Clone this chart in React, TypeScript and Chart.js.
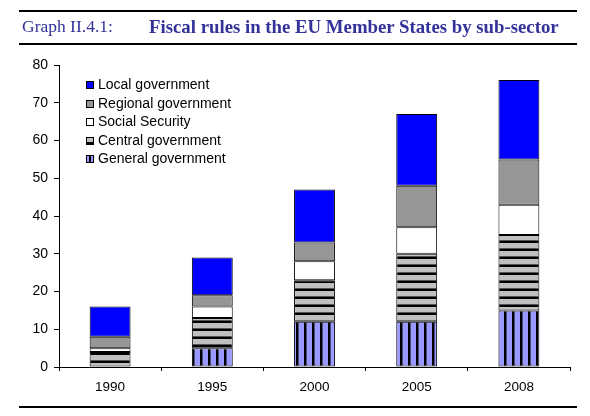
import React, { useEffect, useRef } from "react";
import { Chart, registerables } from "chart.js";

Chart.register(...registerables);

const categories = ["1990", "1995", "2000", "2005", "2008"];
const generalGov = [0, 5, 12, 12, 15];
const centralGov = [4, 8, 11, 18, 20];
const socialSec = [1, 3, 5, 7, 8];
const regionalGov = [3, 3, 5, 11, 12];
const localGov = [8, 10, 14, 19, 21];
const seriesNames = [
  "General government",
  "Central government",
  "Social Security",
  "Regional government",
  "Local government",
];
const yMax = 80;
const yStep = 10;

function makePattern(kind: "v" | "h"): CanvasPattern | string {
  const c = document.createElement("canvas");
  c.width = 8;
  c.height = 8;
  const ctx = c.getContext("2d");
  if (!ctx) return kind === "v" ? "#9999FF" : "#C0C0C0";
  if (kind === "v") {
    ctx.fillStyle = "#9999FF";
    ctx.fillRect(0, 0, 8, 8);
    ctx.fillStyle = "#000000";
    ctx.fillRect(0, 0, 2, 8);
    ctx.fillStyle = "#4d4d80";
    ctx.fillRect(2, 0, 1, 8);
  } else {
    ctx.fillStyle = "#C0C0C0";
    ctx.fillRect(0, 0, 8, 8);
    ctx.fillStyle = "#555555";
    ctx.fillRect(0, 0, 8, 1);
    ctx.fillStyle = "#000000";
    ctx.fillRect(0, 1, 8, 2);
  }
  return ctx.createPattern(c, "repeat") || "#C0C0C0";
}

const legendPlugin = {
  id: "insideLegend",
  afterDraw(chart: any) {
    const ctx = chart.ctx;
    const ds = chart.data.datasets;
    const order = [4, 3, 2, 1, 0];
    const x0 = 86;
    const y0 = 85;
    const gap = 18.5;
    ctx.save();
    ctx.font = "14px 'Liberation Sans', Arial, sans-serif";
    ctx.textBaseline = "middle";
    ctx.textAlign = "left";
    order.forEach((idx, i) => {
      const d = ds[idx];
      const cy = y0 + i * gap;
      const bx = x0;
      const by = Math.round(cy - 4);
      if (idx === 1) {
        ctx.fillStyle = "#C0C0C0";
        ctx.fillRect(bx, by, 8, 8);
        ctx.fillStyle = "#000";
        ctx.fillRect(bx, by + 5, 8, 3);
      } else if (idx === 0) {
        ctx.fillStyle = "#9999FF";
        ctx.fillRect(bx, by, 8, 8);
        ctx.fillStyle = "#000";
        ctx.fillRect(bx + 3, by, 2, 8);
      } else {
        ctx.fillStyle = d.backgroundColor;
        ctx.fillRect(bx, by, 8, 8);
      }
      ctx.strokeStyle = "#000";
      ctx.lineWidth = 1;
      ctx.strokeRect(bx + 0.5, by + 0.5, 7, 7);
      ctx.fillStyle = "#000";
      ctx.fillText(d.label, 98, cy + 0.5);
    });
    ctx.restore();
  },
};

export default function App() {
  const ref = useRef<HTMLCanvasElement | null>(null);

  useEffect(() => {
    if (!ref.current) return;
    const vPat = makePattern("v");
    const hPat = makePattern("h");
    const fills = [vPat, hPat, "#FFFFFF", "#969696", "#0000FF"];
    const values = [generalGov, centralGov, socialSec, regionalGov, localGov];
    const chart = new Chart(ref.current, {
      type: "bar",
      data: {
        labels: categories,
        datasets: values.map((v, i) => ({
          label: seriesNames[i],
          data: v,
          backgroundColor: fills[i] as any,
          borderColor: "#000000",
          borderWidth: 1,
          borderSkipped: false,
          categoryPercentage: 0.8,
          barPercentage: 0.5,
        })),
      },
      options: {
        responsive: false,
        animation: false,
        events: [],
        layout: { padding: { left: 0, top: 65, right: 20, bottom: 19 } },
        plugins: {
          legend: { display: false },
          tooltip: { enabled: false },
          title: { display: false },
        },
        scales: {
          x: {
            stacked: true,
            offset: true,
            grid: {
              offset: true,
              drawOnChartArea: false,
              tickLength: 4,
              color: "#000000",
            },
            border: { color: "#000000", width: 1 },
            ticks: {
              color: "#000000",
              padding: 8,
              font: { size: 13.5, family: "'Liberation Sans', Arial, sans-serif" },
            },
            afterFit: (s: any) => {
              s.height = 30;
            },
          },
          y: {
            stacked: true,
            min: 0,
            max: yMax,
            grid: {
              drawOnChartArea: false,
              tickLength: 5,
              color: "#000000",
            },
            border: { color: "#000000", width: 1 },
            ticks: {
              stepSize: yStep,
              color: "#000000",
              padding: 6,
              font: { size: 14, family: "'Liberation Sans', Arial, sans-serif" },
            },
            afterFit: (s: any) => {
              s.width = 59;
            },
          },
        },
      },
      plugins: [legendPlugin],
    });
    return () => chart.destroy();
  }, []);

  const titleColor = "#333399";
  return (
    <div style={{ position: "absolute", left: 0, top: 0, width: 590, height: 416, background: "#fff" }}>
      <canvas
        ref={ref}
        width={590}
        height={416}
        style={{ position: "absolute", left: 0, top: 0, width: 590, height: 416, display: "block" }}
      />
      <div style={{ position: "absolute", left: 19, top: 10, width: 558, height: 2, background: "#000" }} />
      <div
        style={{
          position: "absolute",
          left: 22,
          top: 17,
          fontFamily: "'Liberation Serif', 'Times New Roman', serif",
          fontSize: 17.5,
          lineHeight: "19px",
          color: titleColor,
          whiteSpace: "nowrap",
        }}
      >
        Graph II.4.1:
      </div>
      <div
        style={{
          position: "absolute",
          left: 149,
          top: 17,
          fontFamily: "'Liberation Serif', 'Times New Roman', serif",
          fontSize: 18.8,
          lineHeight: "19px",
          fontWeight: "bold",
          color: titleColor,
          whiteSpace: "nowrap",
        }}
      >
        Fiscal rules in the EU Member States by sub-sector
      </div>
      <div style={{ position: "absolute", left: 19, top: 43, width: 558, height: 2, background: "#000" }} />
      <div style={{ position: "absolute", left: 19, top: 406, width: 558, height: 2, background: "#000" }} />
    </div>
  );
}
